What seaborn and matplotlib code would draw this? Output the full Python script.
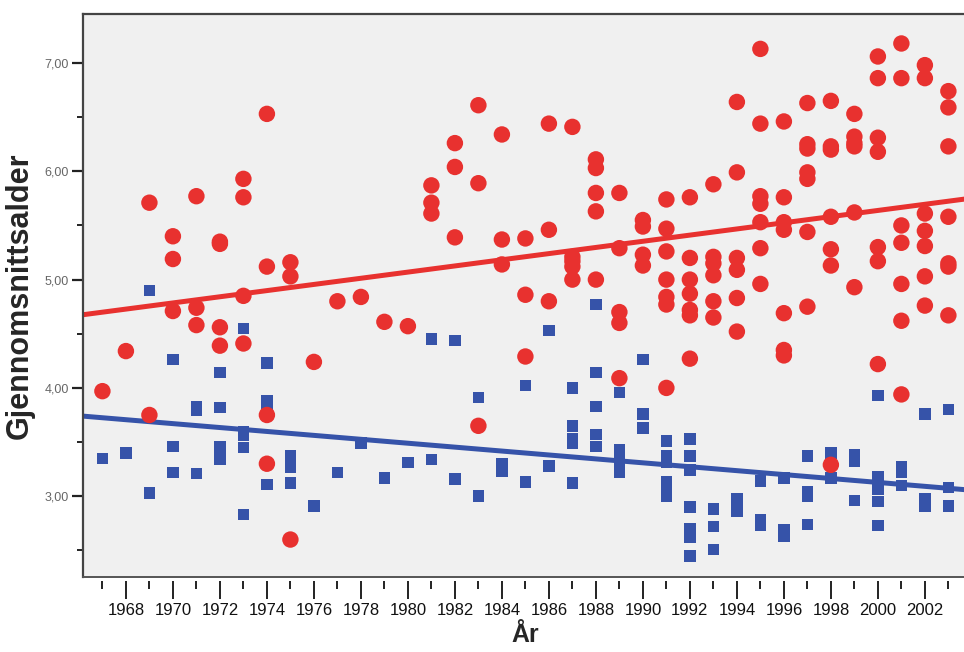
import numpy as np
import pandas as pd
import seaborn as sns
import matplotlib
matplotlib.use("Agg")
import matplotlib.pyplot as plt
from matplotlib import font_manager
from matplotlib.ticker import MultipleLocator, FuncFormatter

# %% data (year -> values)
red_years = (
    [1967, 1968, 1969, 1969]
    + [1970] * 3 + [1971] * 3 + [1972] * 4 + [1973] * 4 + [1974] * 4 + [1975] * 3
    + [1976, 1977, 1978, 1979, 1980]
    + [1981] * 3 + [1982] * 3 + [1983] * 3 + [1984] * 3 + [1985] * 3 + [1986] * 3
    + [1987] * 5 + [1988] * 5 + [1989] * 5 + [1990] * 4 + [1991] * 7 + [1992] * 7
    + [1993] * 6 + [1994] * 6 + [1995] * 7 + [1996] * 7 + [1997] * 7 + [1998] * 7
    + [1999] * 6 + [2000] * 7 + [2001] * 7 + [2002] * 7 + [2003] * 7
)
red_values = [
    3.97, 4.34, 5.71, 3.75,
    5.40, 5.19, 4.71,
    5.77, 4.74, 4.58,
    5.35, 5.33, 4.56, 4.39,
    5.93, 5.76, 4.85, 4.41,
    6.53, 5.12, 3.75, 3.30,
    5.16, 5.03, 2.60,
    4.24, 4.80, 4.84, 4.61, 4.57,
    5.87, 5.71, 5.61,
    6.26, 6.04, 5.39,
    6.61, 5.89, 3.65,
    6.34, 5.37, 5.14,
    5.38, 4.86, 4.29,
    6.44, 5.46, 4.80,
    6.41, 5.21, 5.17, 5.12, 5.00,
    6.11, 6.03, 5.80, 5.63, 5.00,
    5.80, 5.29, 4.70, 4.60, 4.09,
    5.55, 5.49, 5.23, 5.13,
    5.74, 5.47, 5.26, 5.00, 4.84, 4.77, 4.00,
    5.76, 5.20, 5.00, 4.87, 4.72, 4.67, 4.27,
    5.88, 5.21, 5.15, 5.04, 4.80, 4.65,
    6.64, 5.99, 5.20, 5.09, 4.83, 4.52,
    7.13, 6.44, 5.77, 5.70, 5.53, 5.29, 4.96,
    6.46, 5.76, 5.53, 5.46, 4.69, 4.35, 4.30,
    6.63, 6.25, 6.21, 5.99, 5.93, 5.44, 4.75,
    6.65, 6.23, 6.20, 5.58, 5.28, 5.13, 3.29,
    6.53, 6.32, 6.26, 6.23, 5.62, 4.93,
    7.06, 6.86, 6.31, 6.18, 5.30, 5.17, 4.22,
    7.18, 6.86, 5.50, 5.34, 4.96, 4.62, 3.94,
    6.98, 6.86, 5.61, 5.45, 5.31, 5.03, 4.76,
    6.74, 6.59, 6.23, 5.58, 5.15, 5.12, 4.67,
]

blue_years = (
    [1967, 1968, 1969, 1969]
    + [1970] * 3 + [1971] * 3 + [1972] * 5 + [1973] * 5 + [1974] * 4 + [1975] * 4
    + [1976, 1977, 1978, 1979, 1980]
    + [1981] * 2 + [1982] * 2 + [1983] * 2 + [1984] * 2 + [1985] * 2 + [1986] * 2
    + [1987] * 5 + [1988] * 5 + [1989] * 5 + [1990] * 3 + [1991] * 6 + [1992] * 8
    + [1993] * 3 + [1994] * 3 + [1995] * 3 + [1996] * 3 + [1997] * 4 + [1998] * 2
    + [1999] * 3 + [2000] * 6 + [2001] * 3 + [2002] * 3 + [2003] * 3
)
blue_values = [
    3.35, 3.40, 4.90, 3.03,
    4.26, 3.46, 3.22,
    3.83, 3.79, 3.21,
    4.14, 3.82, 3.46, 3.40, 3.34,
    4.55, 3.60, 3.56, 3.45, 2.83,
    4.23, 3.88, 3.83, 3.11,
    3.37, 3.32, 3.27, 3.12,
    2.91, 3.22, 3.49, 3.17, 3.31,
    4.45, 3.34,
    4.44, 3.16,
    3.91, 3.00,
    3.30, 3.23,
    4.02, 3.13,
    4.53, 3.28,
    4.00, 3.65, 3.53, 3.49, 3.12,
    4.77, 4.14, 3.83, 3.57, 3.46,
    3.96, 3.43, 3.33, 3.27, 3.22,
    4.26, 3.76, 3.63,
    3.51, 3.37, 3.31, 3.13, 3.07, 3.00,
    3.53, 3.37, 3.24, 2.90, 2.70, 2.66, 2.62, 2.45,
    2.88, 2.72, 2.51,
    2.98, 2.92, 2.86,
    3.14, 2.78, 2.73,
    3.17, 2.69, 2.63,
    3.37, 3.04, 3.00, 2.74,
    3.40, 3.17,
    3.38, 3.32, 2.96,
    3.93, 3.18, 3.12, 3.06, 2.95, 2.73,
    3.27, 3.22, 3.10,
    3.76, 2.98, 2.91,
    3.80, 3.08, 2.91,
]

year_ticks = list(range(1968, 2003, 2))
age_ticks = [3, 4, 5, 6, 7]

# %% style
red = "#E8312F"
blue = "#3653A9"

sns.set_style("ticks")
installed = {f.name for f in font_manager.fontManager.ttflist}
base_font = "Liberation Sans" if "Liberation Sans" in installed else "DejaVu Sans"
plt.rcParams["font.family"] = [base_font, "DejaVu Sans"]

df = pd.concat([
    pd.DataFrame({"year": red_years, "age": red_values, "group": "red"}),
    pd.DataFrame({"year": blue_years, "age": blue_values, "group": "blue"}),
])

fig = plt.figure(figsize=(9.64, 6.52), dpi=100)
ax = fig.add_axes([0.086, 0.115, 0.919, 0.8635])
ax.set_facecolor("#F0F0F0")
ax.set_xlim(1966.17, 2003.87)
ax.set_ylim(2.254, 7.452)

# regression lines (computed by seaborn, stretched over the full x range)
for grp, col in [("red", red), ("blue", blue)]:
    sns.regplot(data=df[df.group == grp], x="year", y="age", scatter=False,
                ci=None, truncate=False, color=col,
                line_kws=dict(lw=3.6, solid_capstyle="butt"), ax=ax)

sns.scatterplot(data=df[df.group == "blue"], x="year", y="age", marker="s",
                s=68, color=blue, edgecolor="none", ax=ax, zorder=3)
sns.scatterplot(data=df[df.group == "red"], x="year", y="age", marker="o",
                s=140, color=red, edgecolor="none", ax=ax, zorder=4)

ax.set_xlim(1966.17, 2003.87)
ax.set_ylim(2.254, 7.452)

# axes frame
for side in ["top", "left"]:
    ax.spines[side].set_color("#444444")
    ax.spines[side].set_linewidth(1.6)
ax.spines["right"].set_visible(False)
ax.spines["bottom"].set_visible(False)
ax.axhline(2.254, color="#555555", lw=1.4, clip_on=False, zorder=5)
ax.spines["bottom"].set_position(("outward", 3))

ax.set_xticks(year_ticks)
ax.set_xticks([y + 1 for y in range(1966, 2004, 2)], minor=True)
ax.set_yticks(age_ticks)
ax.yaxis.set_minor_locator(MultipleLocator(0.5))
ax.yaxis.set_major_formatter(FuncFormatter(lambda v, p: f"{v:.2f}".replace(".", ",")))

ax.tick_params(axis="x", which="both", bottom=True, top=False)
ax.tick_params(axis="y", which="both", left=True, right=False)
ax.tick_params(axis="x", which="major", direction="out", length=13, width=1.4,
               color="#222222", pad=3, labelsize=12, labelcolor="#111111")
ax.tick_params(axis="x", which="minor", direction="out", length=6, width=1.4,
               color="#222222")
ax.tick_params(axis="y", which="major", direction="out", length=8, width=1.6,
               color="#222222", pad=2, labelsize=9, labelcolor="#666666")
ax.tick_params(axis="y", which="minor", direction="out", length=4, width=1.4,
               color="#222222")

ax.set_xlabel("År", fontsize=18, fontweight="bold")
ax.set_ylabel("Gjennomsnittsalder", fontsize=22, fontweight="bold", labelpad=7)
ax.xaxis.set_label_coords(0.4995, -0.082)

fig.savefig("out.png", dpi=100, facecolor="white")
